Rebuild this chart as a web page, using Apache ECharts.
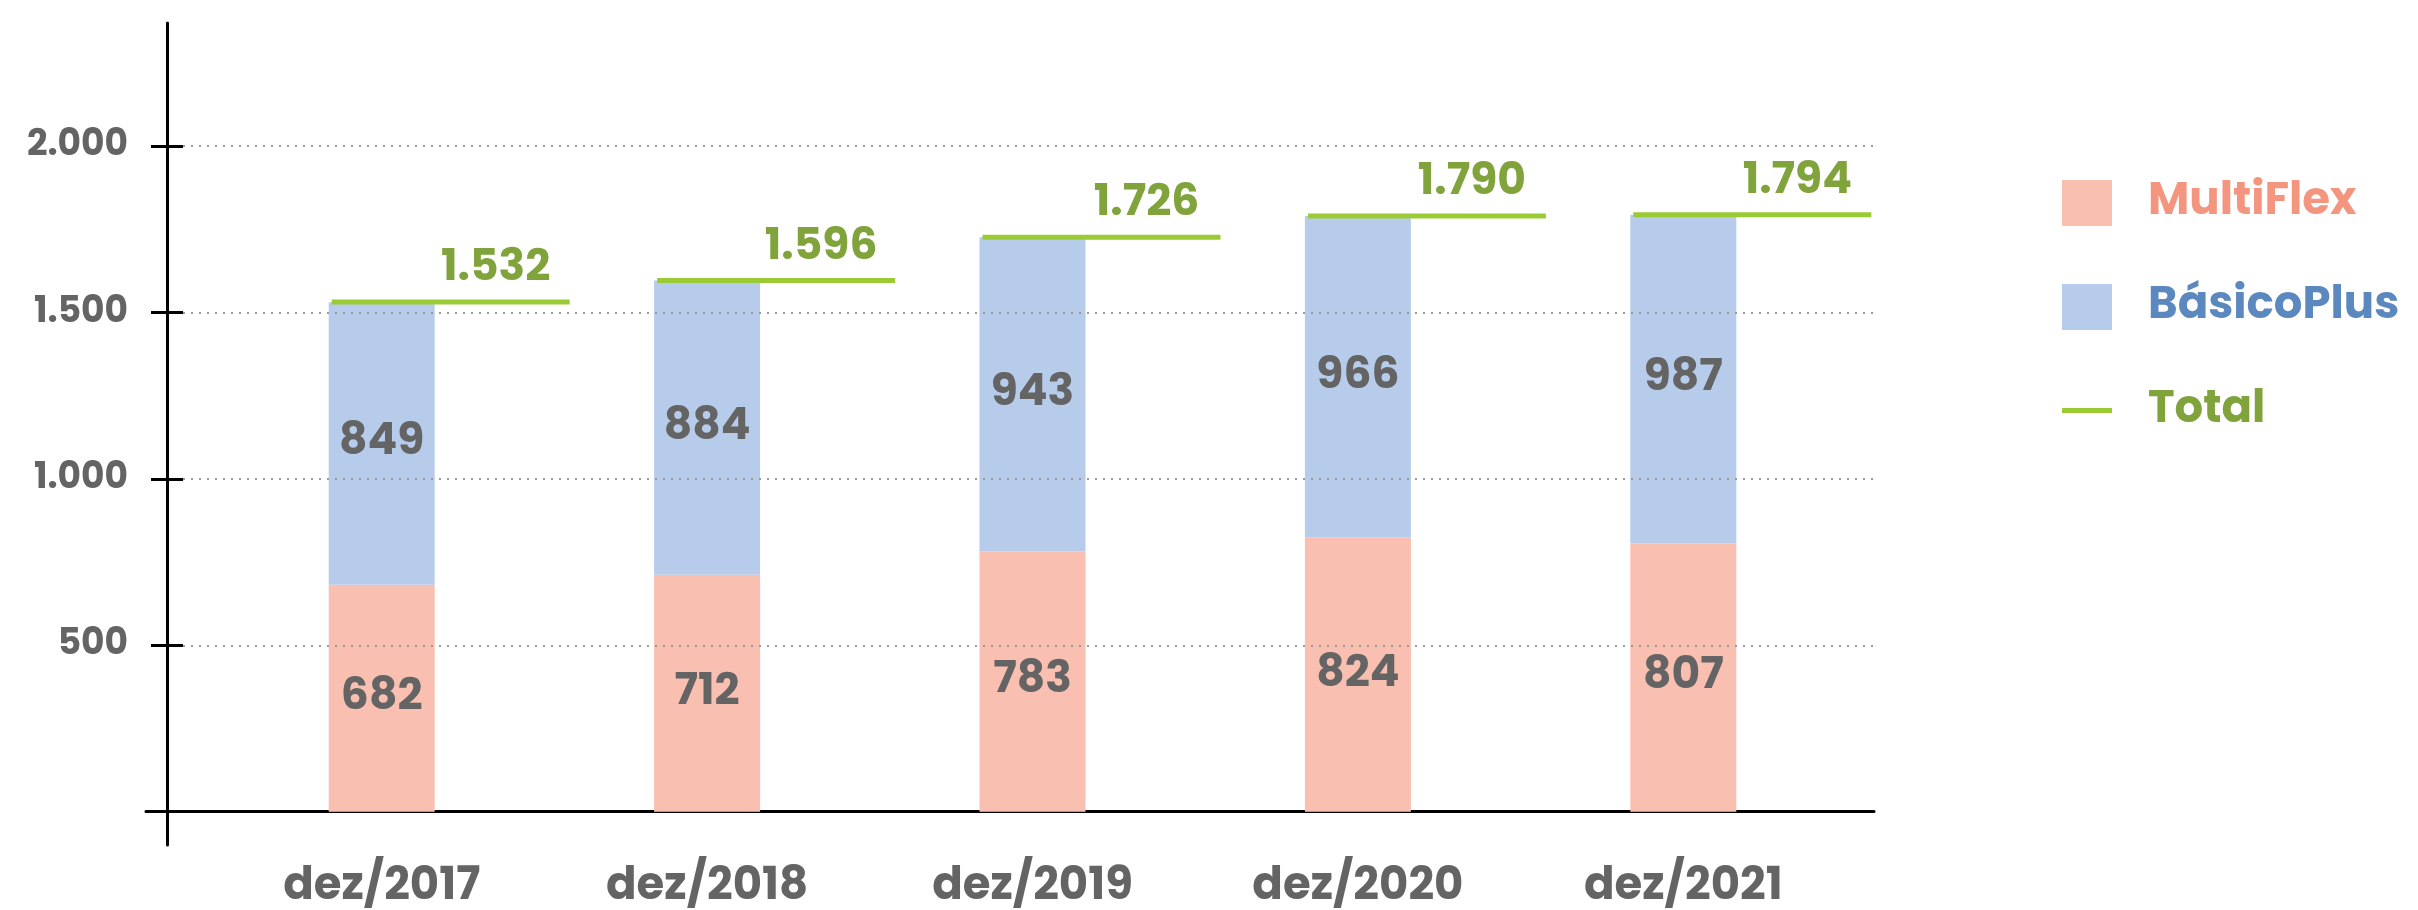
<!DOCTYPE html>
<html>
<head>
<meta charset="utf-8">
<script src="https://cdn.jsdelivr.net/npm/echarts@6/dist/echarts.min.js"></script>
<style>
  html, body { margin: 0; padding: 0; background: #fff; }
  #chart { width: 2418px; height: 910px; }
</style>
</head>
<body>
<div id="chart"></div>
<script>
// dados
var categorias = ['dez/2017', 'dez/2018', 'dez/2019', 'dez/2020', 'dez/2021'];
var multiFlex = [682, 712, 783, 824, 807];
var basicoPlus = [849, 884, 943, 966, 987];
var totais = [1532, 1596, 1726, 1790, 1794];
var yTicks = [500, 1000, 1500, 2000];

var FONT = 'Poppins, Inter, sans-serif';
var CINZA = '#646464';
var VERDE = '#9BCB34';
var VERDE_TXT = '#80A33C';

var Y_MIN = -100, Y_MAX = 2370;

function milhar(v) {
    return String(v).replace(/\B(?=(\d{3})+(?!\d))/g, '.');
}

var labelBarra = {
    show: true,
    position: 'inside',
    fontSize: 44,
    fontWeight: 'bold',
    fontFamily: FONT,
    color: CINZA
};

var chart = echarts.init(document.getElementById('chart'));

chart.setOption({
    animation: false,
    grid: [
        // barras
        { left: 219, right: 572, top: 23, bottom: 65, outerBoundsMode: 'none', containLabel: false },
        // eixos visiveis e linhas de grade
        { left: 146, right: 544, top: 23, bottom: 65, outerBoundsMode: 'none', containLabel: false }
    ],
    legend: {
        orient: 'vertical',
        left: 2062,
        top: 180,
        itemWidth: 50,
        itemHeight: 46,
        itemGap: 58,
        padding: 0,
        selectedMode: false,
        textStyle: { fontSize: 45, fontWeight: 'bold', fontFamily: FONT, padding: [0, 0, 0, 31] },
        data: [
            { name: 'MultiFlex', icon: 'rect', textStyle: { color: '#F4967F' } },
            { name: 'BásicoPlus', icon: 'rect', textStyle: { color: '#5B88BF' } },
            { name: 'Total', icon: 'path://M0,0L50,0L50,5L0,5Z', itemStyle: { color: VERDE }, textStyle: { color: VERDE_TXT } }
        ]
    },
    xAxis: [
        {
            type: 'category',
            gridIndex: 0,
            data: categorias,
            axisLine: { show: false, onZero: false },
            axisTick: { show: false },
            splitLine: { show: false },
            axisLabel: {
                margin: 20,
                fontSize: 45,
                fontWeight: 'bold',
                fontFamily: FONT,
                color: CINZA
            }
        },
        {
            type: 'value',
            gridIndex: 1,
            min: 0,
            max: 1,
            axisLine: { show: true, onZero: true, lineStyle: { color: '#000', width: 3 } },
            axisTick: { show: false },
            axisLabel: { show: false },
            splitLine: { show: false }
        }
    ],
    yAxis: [
        {
            type: 'value',
            gridIndex: 0,
            min: Y_MIN,
            max: Y_MAX,
            show: false,
            splitLine: { show: false }
        },
        {
            type: 'value',
            gridIndex: 1,
            position: 'left',
            min: Y_MIN,
            max: Y_MAX,
            offset: -21,
            axisLine: { show: true, onZero: false, lineStyle: { color: '#000', width: 3 } },
            axisTick: { show: true, customValues: yTicks, length: 16, lineStyle: { color: '#000', width: 3 } },
            splitLine: { show: false },
            axisLabel: {
                customValues: yTicks,
                formatter: milhar,
                margin: 39,
                fontSize: 36,
                fontWeight: 'bold',
                fontFamily: FONT,
                color: CINZA
            }
        },
        {
            type: 'value',
            gridIndex: 1,
            position: 'left',
            min: Y_MIN,
            max: Y_MAX,
            offset: -21,
            axisLine: { show: false, onZero: false },
            axisTick: { show: true, inside: true, customValues: yTicks, length: 16, lineStyle: { color: '#000', width: 3 } },
            splitLine: { show: false },
            axisLabel: { show: false }
        }
    ],
    series: [
        {
            name: 'Total',
            type: 'line',
            xAxisIndex: 1,
            yAxisIndex: 1,
            data: [],
            symbol: 'none',
            z: 1,
            itemStyle: { color: VERDE },
            lineStyle: { color: VERDE, width: 5 },
            markLine: {
                silent: true,
                symbol: 'none',
                label: { show: false },
                lineStyle: { color: '#9a9a9a', width: 2, type: [2, 6] },
                data: yTicks.map(function (t) {
                    return [{ coord: [0.0214, t] }, { coord: [1, t] }];
                })
            }
        },
        {
            name: 'MultiFlex',
            type: 'bar',
            xAxisIndex: 0,
            yAxisIndex: 0,
            stack: 'a',
            barWidth: 106,
            z: 3,
            data: multiFlex,
            itemStyle: { color: '#F9C0B1' },
            label: labelBarra
        },
        {
            name: 'BásicoPlus',
            type: 'bar',
            xAxisIndex: 0,
            yAxisIndex: 0,
            stack: 'a',
            barWidth: 106,
            z: 3,
            data: basicoPlus,
            itemStyle: { color: '#B7CCEA' },
            label: labelBarra
        },
        {
            name: 'Totais',
            type: 'custom',
            xAxisIndex: 0,
            yAxisIndex: 0,
            z: 5,
            data: totais,
            renderItem: function (params, api) {
                var p = api.coord([api.value(0), api.value(1)]);
                return {
                    type: 'group',
                    children: [
                        {
                            type: 'line',
                            shape: { x1: p[0] - 50, y1: p[1], x2: p[0] + 188, y2: p[1] },
                            style: { stroke: VERDE, lineWidth: 5 }
                        },
                        {
                            type: 'text',
                            style: {
                                text: milhar(api.value(1)),
                                x: p[0] + 114,
                                y: p[1] - 33,
                                fill: VERDE_TXT,
                                fontSize: 44,
                                fontWeight: 'bold',
                                fontFamily: FONT,
                                align: 'center',
                                verticalAlign: 'middle'
                            }
                        }
                    ]
                };
            }
        }
    ]
});
</script>
</body>
</html>
